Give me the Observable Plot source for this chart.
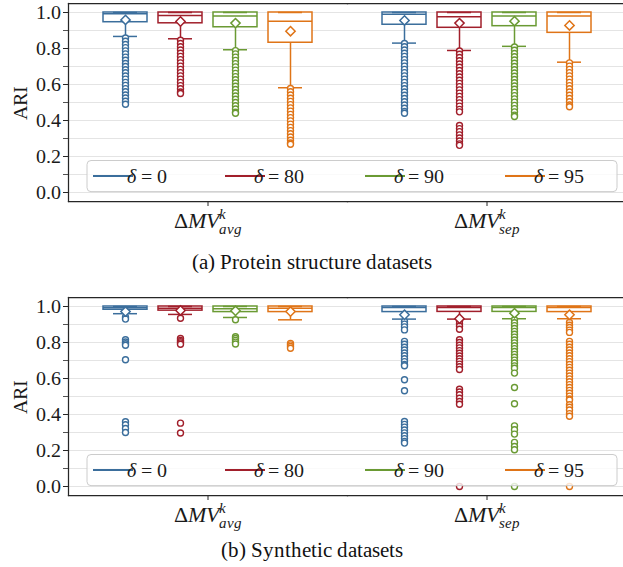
<!DOCTYPE html>
<html>
<head>
<meta charset="utf-8">
<script src="https://cdn.jsdelivr.net/npm/d3@7"></script>
<script src="https://cdn.jsdelivr.net/npm/@observablehq/plot@0.6"></script>
<style>
  @font-face { font-family: "PaperSerif"; font-style: normal;
    src: local("Liberation Serif"), local("LiberationSerif"), local("LiberationSerif-Regular"), local("DejaVu Serif"), local("DejaVuSerif"); }
  @font-face { font-family: "PaperSerif"; font-style: italic;
    src: local("Liberation Serif Italic"), local("LiberationSerif-Italic"), local("DejaVu Serif Italic"), local("DejaVuSerif-Italic"); }
  html, body { margin: 0; padding: 0; background: #fff; }
  body { width: 623px; font-family: "PaperSerif", "Liberation Serif", "DejaVu Serif", serif; color: #111; }
  .cap { width: 623px; text-align: center; font-size: 21px; }
  #capA { height: 35px; line-height: 35px; }
  #capB { height: 24px; line-height: 22px; }
  svg { display: block; }
</style>
</head>
<body>
<div id="panelA"></div>
<div class="cap" id="capA">(a) Protein structure datasets</div>
<div id="panelB"></div>
<div class="cap" id="capB">(b) Synthetic datasets</div>
<script>
// ---------- shared categories ----------
const groups = ["avg", "sep"];
const deltas = [0, 80, 90, 95];
const deltaColors = ["#3b6e9c", "#a11f2b", "#6a9a33", "#df7417"];
const yTicks = [0, 0.2, 0.4, 0.6, 0.8, 1.0];
const yMinorTicks = [0.1, 0.3, 0.5, 0.7, 0.9];
const gridTicks = [0, 0.1, 0.2, 0.3, 0.4, 0.5, 0.6, 0.7, 0.8, 0.9, 1.0];
const legendLabels = ["0", "80", "90", "95"];

// box order: avg δ0, avg δ80, avg δ90, avg δ95, sep δ0, sep δ80, sep δ90, sep δ95
const boxGroup = ["avg", "avg", "avg", "avg", "sep", "sep", "sep", "sep"];
const boxDelta = [0, 80, 90, 95, 0, 80, 90, 95];

// ---------- (a) Protein structure datasets ----------
const protQ1   = [0.946, 0.940, 0.918, 0.832, 0.932, 0.915, 0.924, 0.887];
const protMed  = [0.993, 0.983, 0.980, 0.952, 0.990, 0.977, 0.980, 0.980];
const protQ3   = [1.0, 1.0, 1.0, 1.0, 1.0, 1.0, 1.0, 1.0];
const protLo   = [0.867, 0.854, 0.793, 0.582, 0.830, 0.789, 0.812, 0.724];
const protHi   = [1.0, 1.0, 1.0, 1.0, 1.0, 1.0, 1.0, 1.0];
const protMean = [0.959, 0.950, 0.941, 0.896, 0.956, 0.941, 0.952, 0.928];
const protOutAvg0  = [0.858,0.84,0.822,0.805,0.787,0.77,0.752,0.735,0.717,0.7,0.682,0.665,0.647,0.63,0.612,0.595,0.577,0.56,0.542,0.525,0.507,0.49];
const protOutAvg80 = [0.846,0.828,0.81,0.792,0.774,0.756,0.738,0.72,0.702,0.684,0.666,0.648,0.63,0.612,0.594,0.576,0.558,0.55];
const protOutAvg90 = [0.788,0.77,0.752,0.734,0.716,0.698,0.68,0.662,0.644,0.626,0.608,0.59,0.572,0.554,0.536,0.518,0.5,0.482,0.464,0.446,0.44];
const protOutAvg95 = [0.578,0.56,0.542,0.524,0.506,0.488,0.47,0.452,0.434,0.416,0.398,0.38,0.362,0.344,0.326,0.308,0.29,0.275,0.268];
const protOutSep0  = [0.828,0.81,0.792,0.774,0.756,0.738,0.72,0.702,0.684,0.666,0.648,0.63,0.612,0.594,0.576,0.558,0.54,0.522,0.504,0.486,0.468,0.45,0.44];
const protOutSep80 = [0.786,0.768,0.75,0.732,0.714,0.696,0.678,0.66,0.642,0.624,0.606,0.588,0.57,0.552,0.534,0.516,0.498,0.48,0.462,0.448,0.372,0.355,0.338,0.32,0.303,0.286,0.27,0.262];
const protOutSep90 = [0.808,0.79,0.772,0.754,0.736,0.718,0.7,0.682,0.664,0.646,0.628,0.61,0.592,0.574,0.556,0.538,0.52,0.502,0.484,0.466,0.448,0.43,0.422];
const protOutSep95 = [0.72,0.702,0.684,0.666,0.648,0.63,0.612,0.594,0.576,0.558,0.54,0.522,0.504,0.486,0.476];

// ---------- (b) Synthetic datasets ----------
const synQ1   = [0.982, 0.977, 0.969, 0.969, 0.969, 0.970, 0.970, 0.969];
const synMed  = [0.993, 0.990, 0.987, 0.990, 0.995, 0.995, 0.995, 0.995];
const synQ3   = [1.0, 1.0, 1.0, 1.0, 1.0, 1.0, 1.0, 1.0];
const synLo   = [0.960, 0.956, 0.939, 0.926, 0.930, 0.930, 0.932, 0.932];
const synHi   = [1.0, 1.0, 1.0, 1.0, 1.0, 1.0, 1.0, 1.0];
const synMean = [0.972, 0.978, 0.976, 0.972, 0.954, 0.932, 0.963, 0.954];
const synOutAvg0  = [0.94,0.93,0.815,0.803,0.793,0.785,0.704,0.36,0.343,0.322,0.3];
const synOutAvg80 = [0.935,0.822,0.812,0.805,0.798,0.79,0.352,0.297];
const synOutAvg90 = [0.926,0.832,0.822,0.812,0.802,0.792];
const synOutAvg95 = [0.795,0.787,0.778,0.768];
const synOutSep0  = [0.917,0.902,0.887,0.87,0.806,0.79,0.774,0.758,0.742,0.726,0.71,0.694,0.678,0.671,0.593,0.532,0.361,0.345,0.33,0.314,0.298,0.282,0.266,0.25,0.241];
const synOutSep80 = [0.92,0.905,0.89,0.874,0.815,0.8,0.785,0.77,0.755,0.74,0.725,0.71,0.695,0.68,0.665,0.65,0.54,0.525,0.51,0.49,0.472,0.457,0.0];
const synOutSep90 = [0.926,0.91,0.894,0.878,0.862,0.846,0.83,0.814,0.798,0.782,0.766,0.75,0.734,0.718,0.702,0.686,0.67,0.657,0.63,0.55,0.46,0.337,0.315,0.291,0.245,0.222,0.204,0.0];
const synOutSep95 = [0.911,0.896,0.883,0.869,0.856,0.806,0.79,0.774,0.758,0.742,0.726,0.71,0.694,0.678,0.662,0.646,0.63,0.614,0.598,0.582,0.566,0.55,0.534,0.518,0.502,0.486,0.48,0.454,0.44,0.425,0.405,0.39,0.0];

const SPINE = "#262626";
const FONT = "PaperSerif, 'Liberation Serif', 'DejaVu Serif', serif";

function buildPanel(container, spec) {
  const stats = boxGroup.map((g, i) => ({
    group: g, delta: boxDelta[i],
    q1: spec.q1[i], med: spec.med[i], q3: spec.q3[i],
    lo: spec.lo[i], hi: spec.hi[i], mean: spec.mean[i]
  }));
  const outl = spec.outliers.flatMap((vals, i) =>
    vals.map(v => ({group: boxGroup[i], delta: boxDelta[i], v})));
  const c = {fx: "group", x: "delta", stroke: "delta", strokeWidth: 1.5};

  const chart = Plot.plot({
    width: 623,
    height: spec.height,
    marginLeft: 68,
    marginRight: -3,
    marginTop: spec.marginTop,
    marginBottom: 44,
    style: {fontFamily: FONT, fontSize: "20px", color: "#1a1a1a", background: "#fff"},
    fx: {domain: groups, padding: 0},
    x: {domain: deltas, paddingInner: 0.2, paddingOuter: 0.6, axis: null},
    y: {domain: [-0.05, 1.05]},
    color: {type: "ordinal", domain: deltas, range: deltaColors},
    marks: [
      Plot.gridY(gridTicks, {stroke: "#e4e4e4", strokeOpacity: 1, strokeWidth: 1}),
      Plot.ruleX(stats, {...c, y1: "lo", y2: "q1"}),
      Plot.ruleX(stats, {...c, y1: "q3", y2: "hi"}),
      Plot.barY(stats, {...c, y1: "q1", y2: "q3", fill: "white"}),
      Plot.tickY(stats, {...c, y: "med"}),
      Plot.tickY(stats, {...c, y: "lo", insetLeft: 10, insetRight: 10}),
      Plot.tickY(stats, {...c, y: "hi", insetLeft: 10, insetRight: 10}),
      Plot.dot(outl, {fx: "group", x: "delta", y: "v", stroke: "delta", fill: "white", r: 3, strokeWidth: 1.4}),
      Plot.dot(stats, {...c, y: "mean", symbol: "diamond2", r: 4.2, fill: "white"}),
      Plot.frame({anchor: "top", stroke: SPINE, strokeWidth: 1.25}),
      Plot.frame({anchor: "bottom", stroke: SPINE, strokeWidth: 1.25}),
      Plot.frame({anchor: "left", facetAnchor: "left", stroke: SPINE, strokeWidth: 1.25}),
      Plot.axisY({ticks: yTicks, tickSize: 5, tickPadding: 3, tickFormat: d3.format(".1f"),
        label: "ARI", labelAnchor: "center", labelArrow: "none", labelOffset: 56, stroke: SPINE}),
      Plot.axisY({ticks: yMinorTicks, tickSize: 5, tickFormat: () => "", label: null, stroke: SPINE, strokeWidth: 0.8}),
      Plot.axisFx({anchor: "bottom", tickSize: 5, tickPadding: 6, label: null, fontSize: 22, stroke: SPINE})
    ]
  });
  container.appendChild(chart);

  // math-style category labels: ΔMV^k_avg / ΔMV^k_sep
  d3.select(chart).selectAll('g[aria-label="fx-axis tick label"] text').each(function() {
    const sub = this.textContent.trim();
    const t = d3.select(this);
    t.text(null);
    t.append("tspan").text("Δ");
    t.append("tspan").attr("font-style", "italic").text("MV");
    const k = t.append("tspan").attr("font-style", "italic").attr("font-size", 15).attr("dy", -9).text("k");
    const kw = k.node().getComputedTextLength();
    t.append("tspan").attr("font-style", "italic").attr("font-size", 15).attr("dy", 15).attr("dx", -kw).text(sub);
  });

  // legend (matplotlib-style box in lower part of the axes)
  const y = chart.scale("y");
  const top = y.apply(0.175), bottom = y.apply(0.002);
  const left = 68 + 19, width = 530;
  const g = d3.select(chart).append("g").attr("font-family", FONT).attr("font-size", 20);
  g.append("rect").attr("x", left).attr("y", top).attr("width", width).attr("height", bottom - top)
    .attr("rx", 4).attr("fill", "white").attr("fill-opacity", 0.8).attr("stroke", "#cccccc").attr("stroke-width", 1);
  const cy = (top + bottom) / 2;
  const offs = [6, 138, 278, 418];
  deltas.forEach((d, i) => {
    const x0 = left + offs[i];
    g.append("line").attr("x1", x0).attr("x2", x0 + 40).attr("y1", cy).attr("y2", cy)
      .attr("stroke", deltaColors[i]).attr("stroke-width", 2);
    const tx = g.append("text").attr("x", x0 + 54).attr("y", cy).attr("dy", "0.35em").attr("fill", "#1a1a1a");
    tx.append("tspan").attr("font-style", "italic").text("δ");
    tx.append("tspan").text(" = " + legendLabels[i]);
  });
  return chart;
}

buildPanel(document.getElementById("panelA"), {
  height: 245, marginTop: 3,
  q1: protQ1, med: protMed, q3: protQ3, lo: protLo, hi: protHi, mean: protMean,
  outliers: [protOutAvg0, protOutAvg80, protOutAvg90, protOutAvg95, protOutSep0, protOutSep80, protOutSep90, protOutSep95]
});
buildPanel(document.getElementById("panelB"), {
  height: 259, marginTop: 17,
  q1: synQ1, med: synMed, q3: synQ3, lo: synLo, hi: synHi, mean: synMean,
  outliers: [synOutAvg0, synOutAvg80, synOutAvg90, synOutAvg95, synOutSep0, synOutSep80, synOutSep90, synOutSep95]
});
</script>
</body>
</html>
